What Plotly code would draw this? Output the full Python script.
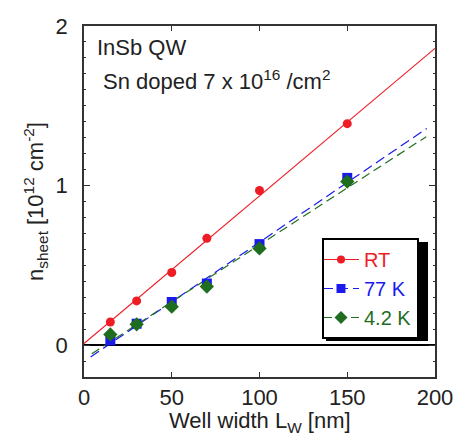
import numpy as np
import plotly.graph_objects as go

# ---- data ----
well_width = [15, 30, 50, 70, 100, 150]
n_rt = [0.145, 0.277, 0.455, 0.669, 0.969, 1.388]
n_77k = [0.030, 0.134, 0.270, 0.386, 0.633, 1.048]
n_4k = [0.067, 0.130, 0.241, 0.367, 0.606, 1.025]

series_names = ["RT", "77 K", "4.2 K"]
fit_slope = [0.00925, 0.00748, 0.00714]
fit_intercept = [0.010, -0.103, -0.086]
fit_xstart = [0, 3.8, 4.4]
fit_xend = [200, 195.3, 195]

x_ticks = [0, 50, 100, 150, 200]
y_ticks = [0, 1, 2]

colors = ["#ee1c24", "#1a1aee", "#1f6e1f"]
symbols = ["circle", "square", "diamond"]
msizes = [9, 10, 11]
dashes = ["solid", "10px,5px", "9px,5px"]
series_vals = [n_rt, n_77k, n_4k]

FONT = "Liberation Sans, Arial, sans-serif"

fig = go.Figure()
for i in range(3):
    xs = np.array([fit_xstart[i], fit_xend[i]])
    ys = fit_slope[i] * xs + fit_intercept[i]
    fig.add_trace(go.Scatter(x=xs, y=ys, mode="lines",
                             line=dict(color=colors[i], width=1.2, dash=dashes[i]),
                             showlegend=False, hoverinfo="skip"))
for i in range(3):
    fig.add_trace(go.Scatter(x=well_width, y=series_vals[i], mode="markers",
                             marker=dict(color=colors[i], symbol=symbols[i], size=msizes[i]),
                             showlegend=False))
for i in range(3):
    fig.add_trace(go.Scatter(x=[None], y=[None], mode="lines+markers",
                             name=f'<span style="color:{colors[i]}">{series_names[i]}</span>',
                             marker=dict(color=colors[i], symbol=symbols[i], size=msizes[i] - 1),
                             line=dict(color=colors[i], width=1.2, dash=dashes[i])))

W, H = 454, 438
L, R, T, B = 84, 19, 26, 61
pw, ph = W - L - R, H - T - B

def px(xp):
    return (xp - L) / pw

def py(yp):
    return (H - B - yp) / ph

# legend drop shadow
fig.add_shape(type="rect", xref="paper", yref="paper",
              x0=px(326), x1=px(428), y0=py(341), y1=py(242),
              fillcolor="black", line=dict(width=0), layer="above")

fig.add_annotation(text="InSb QW", xref="paper", yref="paper",
                   x=px(95), y=py(48), xanchor="left", yanchor="middle",
                   showarrow=False, font=dict(size=22, color="#222", family=FONT))
fig.add_annotation(text="Sn doped 7 x 10<sup>16</sup> /cm<sup>2</sup>", xref="paper", yref="paper",
                   x=px(101), y=py(80), xanchor="left", yanchor="middle",
                   showarrow=False, font=dict(size=22, color="#222", family=FONT))
# x-axis title
fig.add_annotation(text="Well width L<sub>W</sub> [nm]", xref="paper", yref="paper",
                   x=0.5, y=py(422), xanchor="center", yanchor="middle",
                   showarrow=False, font=dict(size=22, color="#222", family=FONT))

fig.update_layout(
    width=W, height=H,
    margin=dict(l=L, r=R, t=T, b=B, autoexpand=False),
    paper_bgcolor="white", plot_bgcolor="white",
    font=dict(family=FONT, size=22, color="#222"),
    legend=dict(x=px(322), y=py(238), xanchor="left", yanchor="top",
                bgcolor="white", bordercolor="black", borderwidth=2,
                font=dict(size=20, family=FONT), tracegroupgap=0,
                itemwidth=36, indentation=-6),
    xaxis=dict(range=[0, 200], tickvals=x_ticks, ticks="inside", ticklen=5,
               tickcolor="#333", showline=True, linecolor="#333", linewidth=1.5,
               mirror="ticks", showgrid=False, zeroline=False, automargin=False,
               ticklabelstandoff=0),
    yaxis=dict(range=[-0.2, 2.0], tickvals=y_ticks, ticks="inside", ticklen=6,
               tickcolor="#333", showline=True, linecolor="#333", linewidth=1.5,
               mirror="ticks", showgrid=False, automargin=False,
               zeroline=True, zerolinecolor="black", zerolinewidth=1.5,
               ticklabelstandoff=10,
               minor=dict(dtick=0.1, ticks="inside", ticklen=2.5, tickcolor="#333"),
               title=dict(text="n<sub>sheet</sub> [10<sup>12</sup> cm<sup>-2</sup>]",
                          standoff=6, font=dict(size=22))),
)

fig.write_html("out.html")
